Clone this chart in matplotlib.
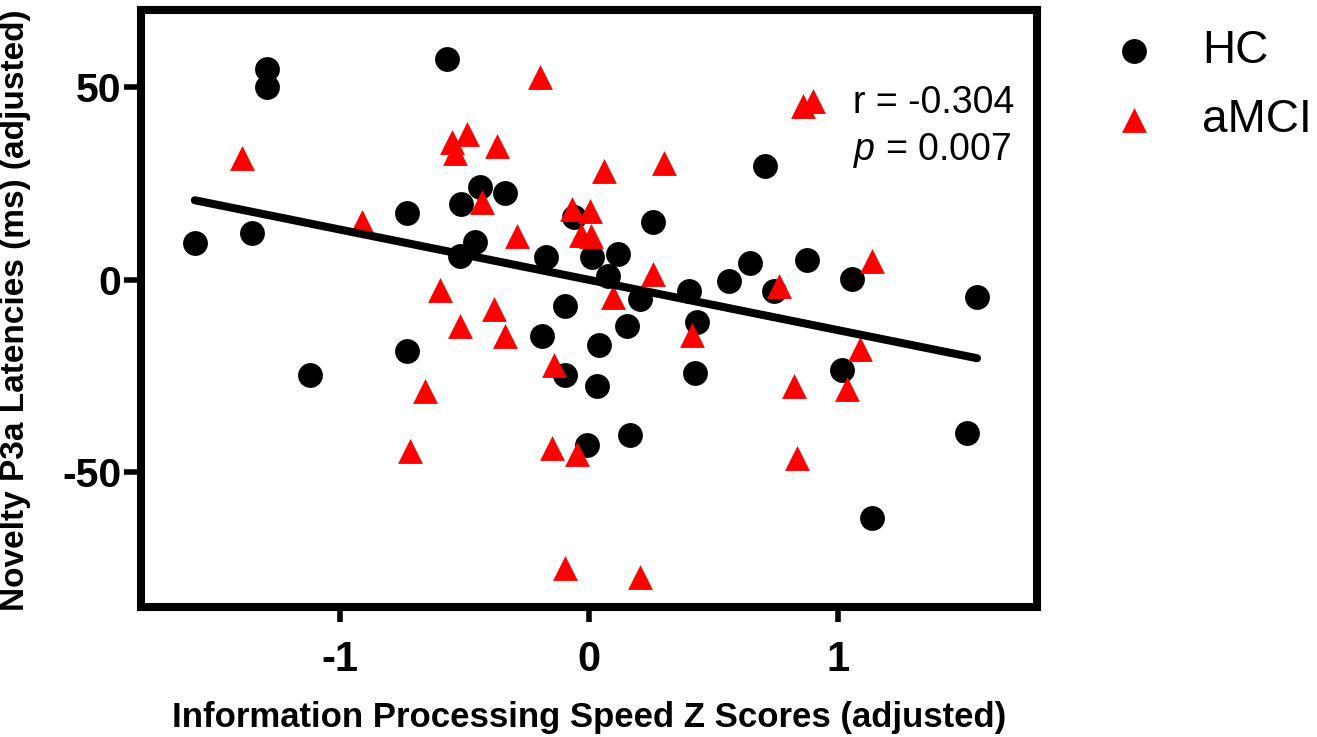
import matplotlib
matplotlib.use("Agg")
import matplotlib.pyplot as plt
from matplotlib import font_manager
import numpy as np

# 字体
plt.rcParams['font.family'] = ['Liberation Sans', 'DejaVu Sans']
plt.rcParams['mathtext.fontset'] = 'custom'
plt.rcParams['mathtext.it'] = 'Liberation Sans:italic'
plt.rcParams['mathtext.rm'] = 'Liberation Sans'

names = {f.name for f in font_manager.fontManager.ttflist}
narrow = 'Liberation Sans Narrow' if 'Liberation Sans Narrow' in names else 'Liberation Sans'

# HC 组
hc_x = [-1.584, -1.354, -1.292, -1.292, -1.122, -0.732, -0.732, -0.569, -0.520, -0.513,
        -0.460, -0.440, -0.339, -0.190, -0.172, -0.098, -0.098, -0.061, -0.009, 0.011,
        0.031, 0.042, 0.076, 0.116, 0.152, 0.163, 0.203, 0.256, 0.401, 0.434,
        0.425, 0.564, 0.646, 0.706, 0.745, 0.876, 1.017, 1.055, 1.136, 1.519, 1.559]
hc_y = [9.6, 12.1, 54.8, 50.2, -24.7, 17.4, -18.5, 57.4, 6.3, 19.7,
        9.8, 24.2, 22.5, -14.7, 6.0, -6.7, -24.6, 16.3, -42.8, 6.0,
        -27.7, -16.9, 1.1, 6.6, -12.1, -40.4, -4.9, 15.0, -2.8, -11.0,
        -24.2, -0.4, 4.5, 29.7, -2.8, 5.2, -23.4, 0.3, -61.8, -39.8, -4.5]

# aMCI 组
amci_x = [-1.393, -0.911, -0.721, -0.661, -0.600, -0.549, -0.540, -0.520, -0.489, -0.430,
          -0.380, -0.370, -0.339, -0.288, -0.199, -0.148, -0.139, -0.098, -0.069, -0.047,
          -0.034, 0.005, 0.009, 0.062, 0.096, 0.204, 0.256, 0.303, 0.414, 0.765,
          0.825, 0.835, 0.859, 0.899, 1.035, 1.089, 1.136]
amci_y = [31.7, 15.0, -44.5, -28.9, -2.6, 35.8, 33.0, -12.1, 37.9, 20.3,
          -7.5, 34.9, -14.7, 11.4, 52.8, -43.7, -22.2, -74.9, 18.4, -45.2,
          11.7, 18.0, 11.3, 28.4, -4.5, -77.2, 1.6, 30.3, -14.2, -1.5,
          -27.7, -46.3, 45.2, 46.5, -28.4, -17.9, 4.8]

# 回归线
fit_slope = -13.06
fit_intercept = 0.0

x_ticks = [-1, 0, 1]
y_ticks = [-50, 0, 50]

fig = plt.figure(figsize=(13.17, 7.37), dpi=100)
ax = fig.add_axes([0.1071, 0.1764, 0.6803, 0.8094])

ax.scatter(hc_x, hc_y, s=320, marker='o', color='black', linewidths=0, zorder=3, label='HC')
ax.scatter(amci_x, amci_y, s=320, marker='^', color='#ff0000', linewidths=0, zorder=4, label='aMCI')

all_x = np.array(hc_x + amci_x)
lx = np.array([all_x.min(), all_x.max()])
ax.plot(lx, fit_slope * lx + fit_intercept, color='black', lw=5.8, solid_capstyle='round', zorder=5)

ax.set_xlim(-1.8, 1.8)
ax.set_ylim(-85, 70)
ax.set_xticks(x_ticks)
ax.set_yticks(y_ticks)
ax.set_xticklabels([str(v) for v in x_ticks], fontsize=30, fontweight='bold', family=narrow)
ax.set_yticklabels([str(v) for v in y_ticks], fontsize=29.5, fontweight='bold')
ax.tick_params(axis='x', length=11, width=4, pad=13)
ax.tick_params(axis='y', length=12, width=4, pad=2)
for sp in ax.spines.values():
    sp.set_linewidth(5.8)
    sp.set_capstyle('projecting')

fig.text(0.447, 1 - 718 / 737, 'Information Processing Speed Z Scores (adjusted)',
         ha='center', va='center', fontsize=25, fontweight='bold', family=narrow)
fig.text(16 / 1317, 1 - 310 / 737, 'Novelty P3a Latencies (ms) (adjusted)',
         ha='center', va='center', rotation=90, fontsize=24, fontweight='bold')

fig.text(853 / 1317, 1 - 113 / 737, 'r = -0.304', ha='left', va='baseline', fontsize=27)
fig.text(853 / 1317, 1 - 160 / 737, r'$p$ = 0.007', ha='left', va='baseline', fontsize=27)

leg = ax.legend(loc='upper left', bbox_to_anchor=(1106 / 1317, 1 - 29 / 737),
                bbox_transform=fig.transFigure, frameon=False, fontsize=33,
                handletextpad=0.9, labelspacing=0.55, borderpad=0, borderaxespad=0,
                handlelength=1.2, scatterpoints=1)

fig.savefig('out.png', dpi=100)
